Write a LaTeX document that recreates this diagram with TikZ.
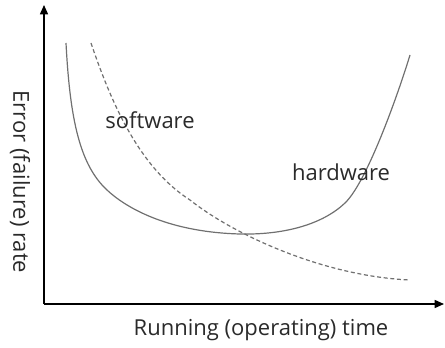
\documentclass[tikz,border=0pt]{standalone}
\usepackage{fontspec}
\setmainfont{Open Sans}
\usetikzlibrary{arrows.meta}
\definecolor{txt}{HTML}{2A2A2A}
\definecolor{crv}{HTML}{707070}
\begin{document}
\begin{tikzpicture}[x=0.75pt,y=-0.75pt,
  axis/.style={draw=black,line width=1.1pt,-{Triangle[length=7pt,width=6pt]}},
  curve/.style={draw=crv,line width=0.9pt},
  lbl/.style={text=txt,font=\fontsize{16.5}{19}\selectfont,inner sep=0pt}]
\useasboundingbox (0,0) rectangle (445,348);
\coordinate (o) at (44,304);
\coordinate (ytop) at (44,5);
\coordinate (xend) at (444,304);
\draw[axis] (o) -- (ytop);
\draw[axis] (o) -- (xend);
% hardware (bathtub)
\draw[curve] (66,43) .. controls (70,120) and (80,165) .. (107,190)
  .. controls (124,206) and (165,232) .. (240,234)
  .. controls (285,235) and (323,224) .. (345,203)
  .. controls (368,181) and (400,88) .. (410,55);
% software
\draw[curve,dash pattern=on 3pt off 2pt] (91,43) .. controls (112,105) and (140,168) .. (190,200)
  .. controls (230,232) and (320,276) .. (410,280);
\node[lbl] (sw) at (150,120) {software};
\node[lbl] (hw) at (341,172) {hardware};
\node[lbl] (xl) at (261,330) {Running (operating) time};
\node[lbl,rotate=-90] (yl) at (20,182) {Error (failure) rate};
\end{tikzpicture}
\end{document}
